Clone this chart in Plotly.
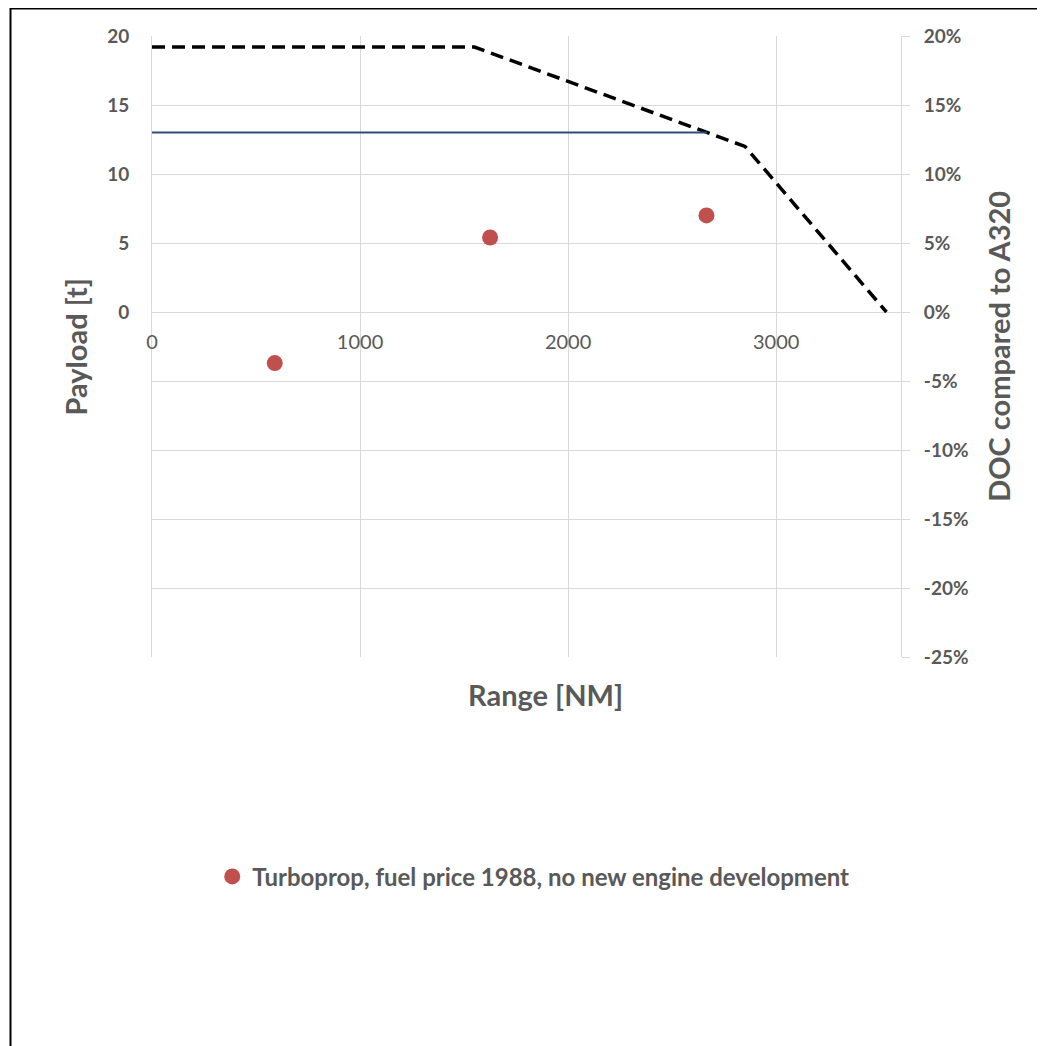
import plotly.graph_objects as go

# Payload-range envelope (left axis, t)
pr_range = [0, 1550, 2850, 3530]
pr_payload = [19.2, 19.2, 12.0, 0]

# Design payload line (left axis, t)
design_range = [0, 2668]
design_payload = [13.0, 13.0]

# DOC compared to A320 (right axis, %)
doc_range = [590, 1625, 2665]
doc_pct = [-3.7, 5.4, 7.0]

x_ticks = [0, 1000, 2000, 3000]
y_left_ticks = [0, 5, 10, 15, 20]
y_right_ticks = [-25, -20, -15, -10, -5, 0, 5, 10, 15, 20]
y_right_text = [f"{v}%" for v in y_right_ticks]

FONT = "Lato"
GREY = "#595959"
GRID = "#d9d9d9"

fig = go.Figure()
fig.add_trace(go.Scatter(x=pr_range, y=pr_payload, mode="lines",
                         line=dict(color="black", width=3.5, dash="13px,7px"),
                         showlegend=False, yaxis="y"))
fig.add_trace(go.Scatter(x=design_range, y=design_payload, mode="lines",
                         line=dict(color="#2E4D7B", width=2),
                         showlegend=False, yaxis="y"))
fig.add_trace(go.Scatter(x=doc_range, y=doc_pct, mode="markers",
                         marker=dict(color="#C0504D", size=16),
                         name="Turboprop, fuel price 1988, no new engine development",
                         yaxis="y2"))

fig.update_layout(
    width=1045, height=1046,
    margin=dict(l=144, r=152, t=28, b=397),
    plot_bgcolor="white", paper_bgcolor="white",
    font=dict(family=FONT, color=GREY),
    xaxis=dict(range=[0, 3600], tickvals=x_ticks, showgrid=True, gridcolor=GRID,
               gridwidth=1, zeroline=False, showline=False, anchor="free",
               position=25 / 45, ticks="", ticklabelstandoff=16,
               tickfont=dict(family=FONT, size=20, color=GREY)),
    yaxis=dict(range=[-25, 20], tickvals=y_left_ticks, showgrid=False, zeroline=False,
               showline=True, mirror=True, linecolor=GRID, linewidth=1,
               ticks="", ticklabelstandoff=18,
               tickfont=dict(family=FONT, size=19, color=GREY, weight="bold")),
    yaxis2=dict(range=[-25, 20], tickvals=y_right_ticks, ticktext=y_right_text,
                overlaying="y", side="right", showgrid=True, gridcolor=GRID,
                zeroline=False, showline=False, ticks="outside", ticklen=8,
                tickcolor=GRID, ticklabelstandoff=10,
                tickfont=dict(family=FONT, size=19, color=GREY, weight="bold")),
    legend=dict(orientation="h", x=0.509, xanchor="center", y=-0.354, yanchor="middle",
                font=dict(family=FONT, size=24, color=GREY, weight="bold"),
                itemsizing="trace", itemwidth=30),
    showlegend=True,
)

fig.add_annotation(text="<b>Range [NM]</b>", xref="paper", yref="paper", x=0.525, y=-0.061,
                   xanchor="center", yanchor="middle",
                   showarrow=False, font=dict(family=FONT, size=29, color=GREY))
fig.add_annotation(text="<b>Payload [t]</b>", xref="paper", yref="paper", x=-0.1015, y=0.5,
                   xanchor="center", yanchor="middle",
                   textangle=-90, showarrow=False, font=dict(family=FONT, size=29, color=GREY))
fig.add_annotation(text="<b>DOC compared to A320</b>", xref="paper", yref="paper", x=1.13, y=0.5,
                   xanchor="center", yanchor="middle",
                   textangle=-90, showarrow=False, font=dict(family=FONT, size=29, color=GREY))

# outer chart border (cropped at right/bottom)
fig.add_shape(type="rect", xref="paper", yref="paper",
              x0=(10.5 - 152) / 749, x1=(1080 - 152) / 749,
              y0=(657 - 1080) / 621, y1=(657 - 8.5) / 621,
              line=dict(color="black", width=2), layer="below")

fig.write_html("out.html")
